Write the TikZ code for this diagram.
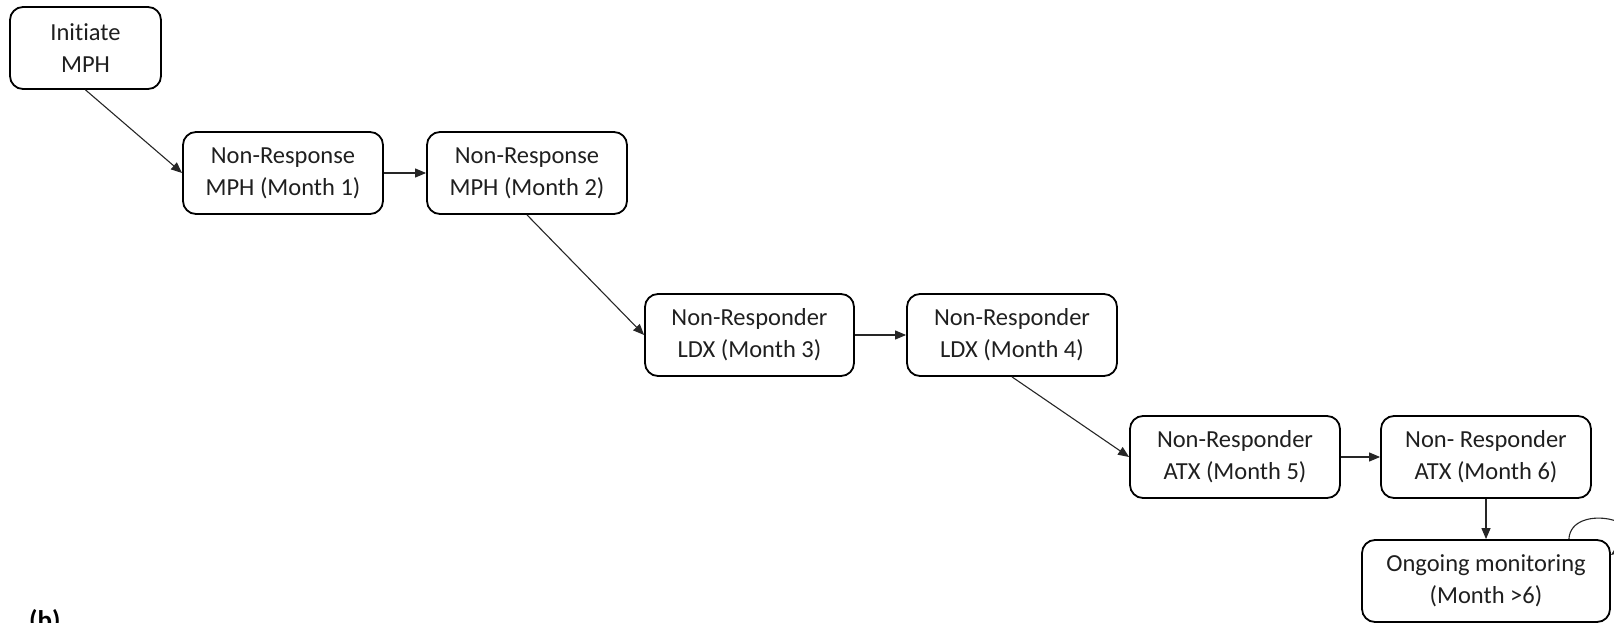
\documentclass[tikz,border=0pt]{standalone}
\usepackage{fontspec}
\setmainfont[Ligatures=NoCommon]{Carlito}
\usetikzlibrary{arrows.meta}

\tikzset{
  stage/.style={draw=black, line width=1.8pt, rounded corners=13pt,
    minimum height=82pt, inner sep=0pt, align=center, text=black!88,
    font=\fontsize{24.5pt}{32pt}\selectfont},
  flow/.style={draw=black!85, line width=1.1pt,
    -{Triangle[length=11pt,width=9pt]}},
  panel/.style={font=\fontsize{27pt}{30pt}\selectfont\bfseries, text=black,
    inner sep=0pt, anchor=base west}
}

\begin{document}
\begin{tikzpicture}[x=1pt, y=-1pt]
  \useasboundingbox (0,0) rectangle (1614,623);
  \clip (0,0) rectangle (1614,623);

  % treatment stages
  \node[stage, minimum width=151pt] (init) at (85.5,48) {Initiate\\MPH};
  \node[stage, minimum width=200pt] (nr1) at (283,173) {Non-Response\\MPH (Month 1)};
  \node[stage, minimum width=200pt] (nr2) at (527,173) {Non-Response\\MPH (Month 2)};
  \node[stage, minimum width=209pt] (ldx3) at (749.5,335) {Non-Responder\\LDX (Month 3)};
  \node[stage, minimum width=210pt] (ldx4) at (1012,335) {Non-Responder\\LDX (Month 4)};
  \node[stage, minimum width=210pt] (atx5) at (1235,457) {Non-Responder\\ATX (Month 5)};
  \node[stage, minimum width=210pt] (atx6) at (1486,457) {Non- Responder\\ATX (Month 6)};
  \node[stage, minimum width=248pt] (ongo) at (1486,581) {Ongoing monitoring\\(Month >6)};

  % transitions
  \draw[flow] (init.south) -- (nr1.west);
  \draw[flow] (nr1.east) -- (nr2.west);
  \draw[flow] (nr2.south) -- (ldx3.west);
  \draw[flow] (ldx3.east) -- (ldx4.west);
  \draw[flow] (ldx4.south) -- (atx5.west);
  \draw[flow] (atx5.east) -- (atx6.west);
  \draw[flow] (atx6.south) -- (ongo.north);

  % self loop on the monitoring stage (canvas offsets: positive is up)
  \coordinate (loopA) at ([xshift=-42pt]ongo.north east);
  \coordinate (loopB) at ([yshift=26pt]ongo.east);
  \draw[flow] (loopA) .. controls +(2pt,38pt) and +(48pt,34pt) .. (loopB);

  % panel label
  \node[panel] (lbl) at (29,629) {(b)};
\end{tikzpicture}
\end{document}
